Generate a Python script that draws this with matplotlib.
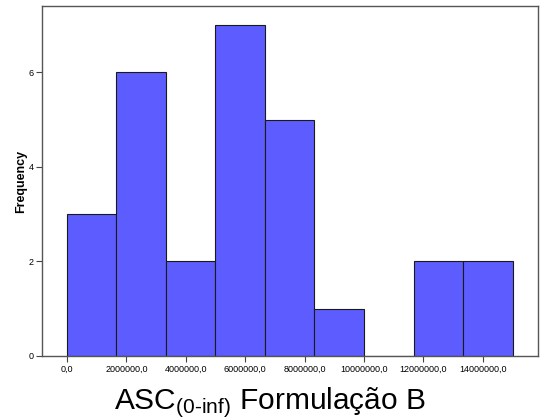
import numpy as np
import matplotlib
matplotlib.use("Agg")
import matplotlib.pyplot as plt
from matplotlib.ticker import FuncFormatter

# Histogram bins for ASC(0-inf), Formulation B
bin_start = 0.0
bin_end = 15000000.0
n_bins = 9
counts = [3, 6, 2, 7, 5, 1, 0, 2, 2]
x_ticks = [0, 2000000, 4000000, 6000000, 8000000, 10000000, 12000000, 14000000]
y_ticks = [0, 2, 4, 6]

plt.rcParams['font.family'] = ['Liberation Sans', 'DejaVu Sans']
plt.rcParams['mathtext.fontset'] = 'custom'
plt.rcParams['mathtext.rm'] = 'Liberation Sans'
plt.rcParams['mathtext.it'] = 'Liberation Sans:italic'
plt.rcParams['mathtext.bf'] = 'Liberation Sans:bold'

fig = plt.figure(figsize=(5.41, 4.19), dpi=100)
ax = fig.add_axes([0.0776, 0.1504, 0.917, 0.8353])

edges = np.linspace(bin_start, bin_end, n_bins + 1)
widths = np.diff(edges)
ax.bar(edges[:-1], counts, width=widths, align='edge',
       color='#5C5CFF', edgecolor='#1a1a1a', linewidth=0.8)

ax.set_xlim(-840000, 15860000)
ax.set_ylim(0, 7.4)
ax.set_xticks(x_ticks)
ax.set_yticks(y_ticks)
ax.xaxis.set_major_formatter(FuncFormatter(lambda v, p: f"{v:.1f}".replace('.', ',')))
ax.tick_params(axis='both', labelsize=6.5, length=4, width=0.8, color='#444444',
               direction='out', pad=2)

for s in ax.spines.values():
    s.set_color('#555555')
    s.set_linewidth(1.0)

ax.set_ylabel('Frequency', fontsize=9, fontweight='bold')
ax.yaxis.set_label_coords(-0.03, 0.5)
ax.set_xlabel(r'ASC$_{\mathregular{(0\text{-}inf)}}$ Formulação B', fontsize=21.5)
ax.xaxis.set_label_coords(0.46, -0.085)
ax.xaxis.label.set_va('top')

fig.savefig('out.png', dpi=100)
